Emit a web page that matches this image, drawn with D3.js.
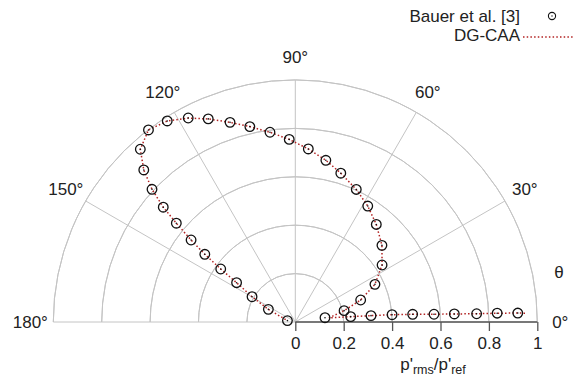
<!DOCTYPE html>
<html>
<head>
<meta charset="utf-8">
<script src="https://cdn.jsdelivr.net/npm/d3@7"></script>
<style>
  html, body { margin: 0; padding: 0; background: #fff; }
  svg text { font-family: 'Liberation Sans', Arial, sans-serif; fill: #222; }
</style>
</head>
<body>
<div id="chart"></div>
<script>
/* Polar directivity plot: Bauer et al. vs DG-CAA */

// angles in degrees, radii in p'rms/p'ref
const bauerTheta = [2.3, 2.5, 2.6, 2.9, 3.2, 3.75, 4.3, 4.8, 5.5, 8.2, 13.1, 18.6, 25.3, 33.3,
  41.5, 50.3, 58.0, 65.3, 73.0, 79.3, 85.7, 91.9, 97.6, 103.1, 108.1, 113.2, 117.7, 122.5,
  127.4, 131.9, 134.9, 137.2, 139.0, 140.3, 141.8, 143.2, 144.6, 146.2, 149.7, 154.8, 170];
const bauerR = [0.920, 0.835, 0.750, 0.658, 0.574, 0.486, 0.401, 0.314, 0.230, 0.124, 0.207,
  0.285, 0.364, 0.429, 0.478, 0.524, 0.565, 0.603, 0.643, 0.680, 0.717, 0.755, 0.791, 0.829,
  0.868, 0.913, 0.952, 0.985, 0.999, 0.959, 0.887, 0.807, 0.723, 0.639, 0.548, 0.467, 0.378,
  0.292, 0.207, 0.123, 0.033];

const dgTheta = [2.2, 2.3, 2.5, 2.6, 2.9, 3.2, 3.75, 4.3, 4.8, 5.5, 7.0, 13.1, 18.6, 25.3, 33.3,
  41.5, 50.3, 58.0, 65.3, 73.0, 79.3, 85.7, 91.9, 97.6, 103.1, 108.1, 113.2, 117.7, 122.5,
  127.4, 131.9, 134.9, 137.2, 139.0, 140.3, 141.8, 143.2, 144.6, 146.2, 149.7, 154.8, 170];
const dgR = [0.950, 0.920, 0.835, 0.750, 0.658, 0.574, 0.486, 0.401, 0.314, 0.230, 0.140, 0.207,
  0.285, 0.364, 0.429, 0.478, 0.524, 0.565, 0.603, 0.643, 0.680, 0.717, 0.755, 0.791, 0.829,
  0.868, 0.913, 0.952, 0.985, 0.999, 0.959, 0.887, 0.807, 0.723, 0.639, 0.548, 0.467, 0.378,
  0.292, 0.207, 0.123, 0.033];

const ringTicks = [0.2, 0.4, 0.6, 0.8, 1];
const radialTicks = [0, 0.2, 0.4, 0.6, 0.8, 1];
const radialLabels = ['0', '0.2', '0.4', '0.6', '0.8', '1'];
const spokeAngles = [0, 30, 60, 90, 120, 150, 180];
const angleLabels = ['0°', '30°', '60°', '90°', '120°', '150°', '180°'];

const cfg = {
  w: 574,
  h: 379,
  cx: 295.3,
  cy: 322,
  R: 242,
  gridColor: '#c4c4c4',
  axisColor: '#555',
  lineColor: '#b22222',
  font: '17px',
};

const svg = d3.select('#chart')
  .append('svg')
  .attr('width', cfg.w)
  .attr('height', cfg.h);

const g = svg.append('g')
  .attr('transform', `translate(${cfg.cx}, ${cfg.cy})`);

// Scales
const r = d3.scaleLinear().domain([0, 1]).range([0, cfg.R]);
const a = d3.scaleLinear().domain([0, 180]).range([0, Math.PI]);
const px = (t, v) => r(v) * Math.cos(a(t));
const py = (t, v) => -r(v) * Math.sin(a(t));

// Rings
ringTicks.forEach(tick => {
  const arc = d3.arc()
    .innerRadius(r(tick)).outerRadius(r(tick))
    .startAngle(-Math.PI / 2).endAngle(Math.PI / 2);
  g.append('path')
    .attr('d', arc())
    .attr('fill', 'none')
    .attr('stroke', cfg.gridColor)
    .attr('stroke-width', 1);
});

// Spokes
spokeAngles.forEach(t => {
  g.append('line')
    .attr('x1', 0).attr('y1', 0)
    .attr('x2', px(t, 1)).attr('y2', py(t, 1))
    .attr('stroke', cfg.gridColor)
    .attr('stroke-width', 1);
});

// Angle labels
spokeAngles.forEach((t, i) => {
  const rl = cfg.R + 23;
  g.append('text')
    .attr('x', rl * Math.cos(a(t)))
    .attr('y', -rl * Math.sin(a(t)))
    .attr('text-anchor', 'middle')
    .attr('dominant-baseline', 'central')
    .attr('font-size', cfg.font)
    .text(angleLabels[i]);
});

g.append('text')
  .attr('x', 559 - cfg.cx)
  .attr('y', 272 - cfg.cy)
  .attr('text-anchor', 'middle')
  .attr('dominant-baseline', 'central')
  .attr('font-size', cfg.font)
  .text('θ');

// Radial axis along 0°
g.append('g')
  .call(d3.axisBottom(r).tickValues(radialTicks).tickSize(9).tickPadding(6)
    .tickFormat((d, i) => radialLabels[i]))
  .call(s => s.select('.domain').remove())
  .call(s => s.selectAll('.tick line').attr('stroke', cfg.axisColor).attr('stroke-width', 1.3))
  .call(s => s.selectAll('.tick text')
    .attr('fill', '#222')
    .attr('font-family', "'Liberation Sans', Arial, sans-serif")
    .attr('font-size', cfg.font));

g.append('line')
  .attr('x1', r(0)).attr('x2', r(1))
  .attr('y1', 0).attr('y2', 0)
  .attr('stroke', cfg.axisColor)
  .attr('stroke-width', 1.5);

const xlab = g.append('text')
  .attr('x', 433 - cfg.cx)
  .attr('y', 370 - cfg.cy)
  .attr('text-anchor', 'middle')
  .attr('font-size', cfg.font);
xlab.append('tspan').text("p'");
xlab.append('tspan').attr('font-size', '12.5px').attr('dy', 4).text('rms');
xlab.append('tspan').attr('dy', -4).text("/p'");
xlab.append('tspan').attr('font-size', '12.5px').attr('dy', 4).text('ref');

// DG-CAA line
const dgData = dgTheta.map((t, i) => ({ t, v: dgR[i] }));
const radial = d3.lineRadial()
  .angle(d => Math.PI / 2 - a(d.t))
  .radius(d => r(d.v));

g.append('path')
  .datum(dgData)
  .attr('d', radial)
  .attr('fill', 'none')
  .attr('stroke', cfg.lineColor)
  .attr('stroke-width', 1.5)
  .attr('stroke-dasharray', '1.5,2.2');

// Bauer markers
const bauerData = bauerTheta.map((t, i) => ({ t, v: bauerR[i] }));
const marks = g.append('g');
bauerData.forEach(d => {
  marks.append('circle')
    .attr('cx', px(d.t, d.v)).attr('cy', py(d.t, d.v))
    .attr('r', 4.8)
    .attr('fill', 'none')
    .attr('stroke', '#111')
    .attr('stroke-width', 1.3);
  marks.append('circle')
    .attr('cx', px(d.t, d.v)).attr('cy', py(d.t, d.v))
    .attr('r', 0.8)
    .attr('fill', '#111');
});

// Legend
const lg = svg.append('g');
lg.append('text')
  .attr('x', 520).attr('y', 21.5)
  .attr('text-anchor', 'end')
  .attr('font-size', cfg.font)
  .text('Bauer et al. [3]');
lg.append('circle')
  .attr('cx', 552).attr('cy', 16)
  .attr('r', 3.6)
  .attr('fill', 'none')
  .attr('stroke', '#111')
  .attr('stroke-width', 1.1);
lg.append('circle')
  .attr('cx', 552).attr('cy', 16)
  .attr('r', 0.7)
  .attr('fill', '#111');
lg.append('text')
  .attr('x', 520).attr('y', 41)
  .attr('text-anchor', 'end')
  .attr('font-size', cfg.font)
  .text('DG-CAA');
lg.append('line')
  .attr('x1', 523).attr('x2', 573)
  .attr('y1', 37).attr('y2', 37)
  .attr('stroke', cfg.lineColor)
  .attr('stroke-width', 1.5)
  .attr('stroke-dasharray', '1.5,2.2');
</script>
</body>
</html>
